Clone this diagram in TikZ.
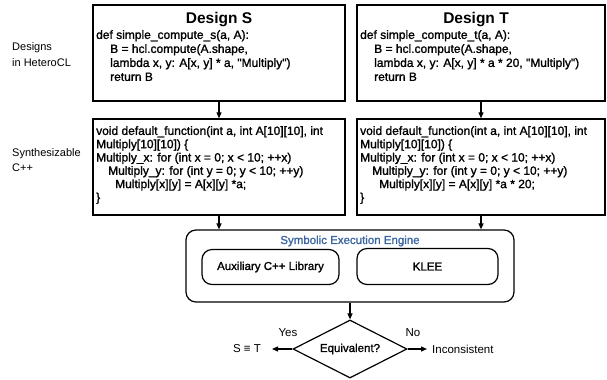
\documentclass[tikz,border=0pt]{standalone}
\usepackage{fontspec}
\setmainfont{Liberation Sans}
\newfontfamily\medfont{Liberation Sans}[FakeBold=1.4]
\usetikzlibrary{arrows.meta,shapes.geometric}
\definecolor{engblue}{HTML}{3A64A0}
\begin{document}
\begin{tikzpicture}[x=1bp,y=-1bp,
  box/.style={draw,line width=1.4bp,minimum width=252bp,minimum height=96bp,inner sep=0},
  rbox/.style={draw,line width=1.2bp,rounded corners=10bp,inner sep=0},
  code/.style={anchor=north west,inner sep=0,align=left,font=\medfont\fontsize{12bp}{14bp}\selectfont},
  codeb/.style={code,font=\medfont\fontsize{12bp}{13.3bp}\selectfont},
  ttl/.style={inner sep=0,font=\bfseries\fontsize{15.5bp}{15.5bp}\selectfont},
  lab/.style={anchor=west,inner sep=0,align=left,font=\fontsize{11bp}{16bp}\selectfont},
  med/.style={inner sep=0,font=\medfont\fontsize{11.5bp}{12bp}\selectfont},
  reg/.style={inner sep=0,font=\fontsize{11.5bp}{12bp}\selectfont},
  arr/.style={line width=1.2bp,-{Triangle[length=6bp,width=5bp]}},
]
\useasboundingbox (0,0) rectangle (607,379);

% left labels
\node[lab] (L1) at (12,55) {Designs\\in HeteroCL};
\node[lab,font=\fontsize{11bp}{14.5bp}\selectfont] (L2) at (12,160) {Synthesizable\\C++};

% HeteroCL boxes
\node[box] (S) at (219,53) {};
\node[box,minimum width=248bp] (T) at (481,53) {};
\node[ttl] (St) at (219,20) {Design S};
\node[ttl] (Tt) at (476,20) {Design T};
\node[code] (Sc) at (96,30) {def simple\_compute\_s(a, A):\\
\hspace*{14bp}B = hcl.compute(A.shape,\\
\hspace*{14bp}lambda x, y: A[x, y] * a, "Multiply")\\
\hspace*{14bp}return B};
\node[code] (Tc) at (360,30) {def simple\_compute\_t(a, A):\\
\hspace*{14bp}B = hcl.compute(A.shape,\\
\hspace*{14bp}lambda x, y: A[x, y] * a * 20, "Multiply")\\
\hspace*{14bp}return B};

% C++ boxes
\node[box] (S2) at (219,167) {};
\node[box,minimum width=248bp] (T2) at (481,167) {};
\node[codeb] (S2c) at (96,126) {void default\_function(int a, int A[10][10], int\\
Multiply[10][10]) \{\\
Multiply\_x: for (int x = 0; x < 10; ++x)\\
\hspace*{12bp}Multiply\_y: for (int y = 0; y < 10; ++y)\\
\hspace*{19bp}Multiply[x][y] = A[x][y] *a;\\
\}};
\node[codeb] (T2c) at (360,126) {void default\_function(int a, int A[10][10], int\\
Multiply[10][10]) \{\\
Multiply\_x: for (int x = 0; x < 10; ++x)\\
\hspace*{12bp}Multiply\_y: for (int y = 0; y < 10; ++y)\\
\hspace*{19bp}Multiply[x][y] = A[x][y] *a * 20;\\
\}};

% engine
\node[rbox,minimum width=328bp,minimum height=72bp] (E) at (350,266) {};
\node[med,text=engblue] (Et) at (350,241) {Symbolic Execution Engine};
\node[rbox,minimum width=137bp,minimum height=35bp,med] (Aux) at (270.5,267) {Auxiliary C++ Library};
\node[rbox,minimum width=141bp,minimum height=36bp,med] (K) at (427.5,266.5) {KLEE};

% decision
\node[draw,diamond,line width=1.2bp,minimum width=114bp,minimum height=58bp,aspect=2,inner sep=0,med] (D) at (350,349) {Equivalent?};
\node[reg,anchor=east] (Eq) at (261,349) {S ≡ T};
\node[reg,anchor=west] (Inc) at (432,349) {Inconsistent};
\node[reg] (Y) at (288,333) {Yes};
\node[reg] (N) at (413,333) {No};

% connectors
\draw[arr] (S) -- (S2);
\draw[arr] (T) -- (T2);
\draw[arr] (S2.south) -- (S2.south |- E.north);
\draw[arr] (T2.south) -- (T2.south |- E.north);
\draw[arr] (E) -- (D);
\draw[arr] (D.west) -- ([xshift=11bp]Eq.east);
\draw[arr] (D.east) -- ([xshift=-5bp]Inc.west);
\end{tikzpicture}
\end{document}
